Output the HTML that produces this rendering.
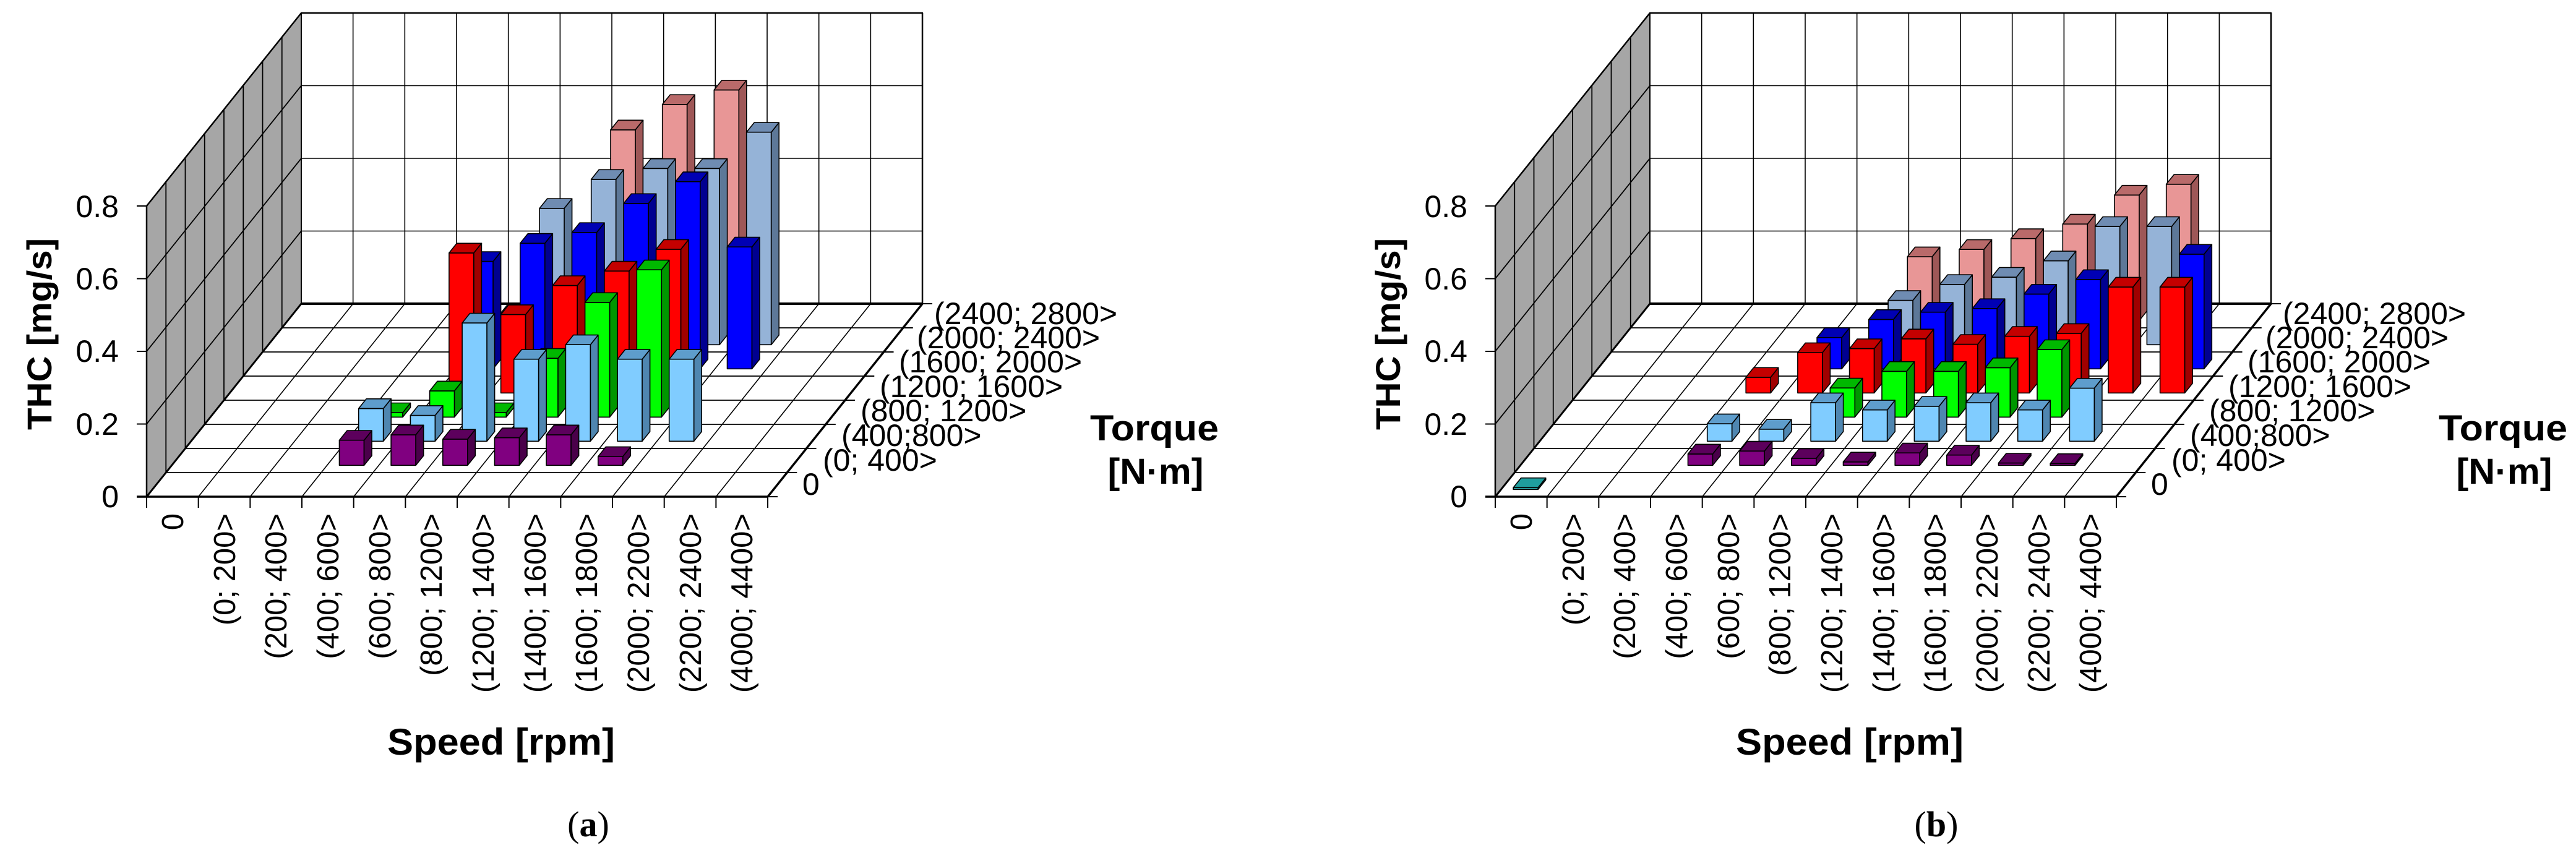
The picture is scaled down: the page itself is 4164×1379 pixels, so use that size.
<!DOCTYPE html>
<html><head><meta charset="utf-8"><style>
html,body{margin:0;padding:0;background:#fff;}
svg{display:block;}
text{font-family:"Liberation Sans",Arial,sans-serif;fill:#000;}
</style></head><body>
<svg id="s" width="4164" height="1379" viewBox="0 0 4164 1379" xmlns="http://www.w3.org/2000/svg">
<rect width="4164" height="1379" fill="#fff"/>
<g id="ga"></g>
<g id="gb"></g>
<g id="labels">
 <g id="la">
  <g font-size="50" text-anchor="end">
   <text x="192" y="820">0</text>
   <text x="192" y="703">0.2</text>
   <text x="192" y="585">0.4</text>
   <text x="192" y="468">0.6</text>
   <text x="192" y="351">0.8</text>
  </g>
  <text transform="translate(83,540) rotate(-90)" text-anchor="middle" font-size="56" font-weight="bold" textLength="310" lengthAdjust="spacingAndGlyphs">THC [mg/s]</text>
  <g font-size="49" text-anchor="end">
   <text transform="translate(279,830) rotate(-90)" dy="0.35em">0</text>
   <text transform="translate(363,830) rotate(-90)" dy="0.35em">(0; 200&gt;</text>
   <text transform="translate(446,830) rotate(-90)" dy="0.35em">(200; 400&gt;</text>
   <text transform="translate(530,830) rotate(-90)" dy="0.35em">(400; 600&gt;</text>
   <text transform="translate(614,830) rotate(-90)" dy="0.35em">(600; 800&gt;</text>
   <text transform="translate(697,830) rotate(-90)" dy="0.35em">(800; 1200&gt;</text>
   <text transform="translate(781,830) rotate(-90)" dy="0.35em">(1200; 1400&gt;</text>
   <text transform="translate(865,830) rotate(-90)" dy="0.35em">(1400; 1600&gt;</text>
   <text transform="translate(948,830) rotate(-90)" dy="0.35em">(1600; 1800&gt;</text>
   <text transform="translate(1032,830) rotate(-90)" dy="0.35em">(2000; 2200&gt;</text>
   <text transform="translate(1116,830) rotate(-90)" dy="0.35em">(2200; 2400&gt;</text>
   <text transform="translate(1199,830) rotate(-90)" dy="0.35em">(4000; 4400&gt;</text>
  </g>
  <g font-size="50">
   <text x="1297" y="800">0</text>
   <text x="1330" y="761">(0; 400&gt;</text>
   <text x="1360" y="721">(400;800&gt;</text>
   <text x="1391" y="681">(800; 1200&gt;</text>
   <text x="1422" y="642">(1200; 1600&gt;</text>
   <text x="1453" y="602">(1600; 2000&gt;</text>
   <text x="1482" y="563">(2000; 2400&gt;</text>
   <text x="1510" y="524">(2400; 2800&gt;</text>
  </g>
  <text x="1866" y="712" text-anchor="middle" font-size="58" font-weight="bold" textLength="208" lengthAdjust="spacingAndGlyphs">Torque</text>
  <text x="1868" y="782" text-anchor="middle" font-size="58" font-weight="bold" textLength="155" lengthAdjust="spacingAndGlyphs">[N·m]</text>
  <text x="810" y="1220" text-anchor="middle" font-size="60" font-weight="bold" textLength="368" lengthAdjust="spacingAndGlyphs">Speed [rpm]</text>
 </g>
 <use href="#la" transform="translate(2180,0)"/>
 <text x="951" y="1352" text-anchor="middle" font-size="58" style="font-family:'Liberation Serif',serif">(<tspan font-weight="bold">a</tspan>)</text>
 <text x="3130" y="1352" text-anchor="middle" font-size="58" style="font-family:'Liberation Serif',serif">(<tspan font-weight="bold">b</tspan>)</text>
</g>
</svg>
<script>
(function(){
var NS="http://www.w3.org/2000/svg";
var X0=237,Y0=803,CW=83.67,DX=31.25,DY=39,H=586,WH=470;
function el(g,t,a){var e=document.createElementNS(NS,t);for(var k in a)e.setAttribute(k,a[k]);g.appendChild(e);return e;}
function line(g,x1,y1,x2,y2,w){el(g,"line",{x1:x1,y1:y1,x2:x2,y2:y2,stroke:"#000","stroke-width":w||2});}
function poly(g,pts,fill){el(g,"polygon",{points:pts.map(function(p){return p[0].toFixed(1)+","+p[1].toFixed(1)}).join(" "),fill:fill,stroke:"#000","stroke-width":1.6,"stroke-linejoin":"round"});}
var COL=[["#33cccc","#1f9e9e","#178585"],["#800080","#5c005c","#4a004a"],["#80ccff","#5e9dcc","#4f86b0"],["#00ff00","#00b800","#009600"],["#ff0000","#c40000","#a00000"],["#0000ff","#0000b4","#000090"],["#95b3d7","#6f8cb2","#5d7898"],["#e89696","#b96a6a","#9e5757"]];
function chart(g,ox,data){
  var BX=X0+ox, BK=X0+ox+8*DX, BY=Y0-8*DY, FR=X0+ox+12*CW;
  poly(g,[[BX,Y0],[BK,BY],[BK,BY-WH],[BX,Y0-WH]],"#a6a6a6");
  for(var j=1;j<8;j++)line(g,BX+DX*j,Y0-DY*j,BX+DX*j,Y0-DY*j-WH,1.8);
  for(var k=1;k<4;k++)line(g,BX,Y0-k*WH/4,BK,BY-k*WH/4,1.8);
  el(g,"rect",{x:BK,y:BY-WH,width:12*CW,height:WH,fill:"#fff",stroke:"#000","stroke-width":2});
  for(var i=1;i<12;i++)line(g,BK+CW*i,BY,BK+CW*i,BY-WH,1.6);
  for(var k=1;k<4;k++)line(g,BK,BY-k*WH/4,BK+12*CW,BY-k*WH/4,1.6);
  line(g,BK,BY-WH,BK+12*CW,BY-WH,2.5);line(g,BK+12*CW,BY-WH,BK+12*CW,BY,2.5);
  poly(g,[[BX,Y0],[FR,Y0],[FR+8*DX,BY],[BK,BY]],"#fff");
  for(var j=1;j<8;j++)line(g,BX+DX*j,Y0-DY*j,FR+DX*j+14,Y0-DY*j,1.8);
  for(var i=1;i<12;i++)line(g,BX+CW*i,Y0,BK+CW*i,BY,1.6);
  line(g,BK,BY,FR+8*DX,BY,4);
  line(g,BX,Y0,BK,BY,3);line(g,FR,Y0,FR+8*DX,BY,3.5);
  line(g,BX-16,Y0,FR,Y0,3.5);
  line(g,BX,Y0,BX,Y0-WH,2.5);line(g,BX,Y0-WH,BK,BY-WH,2.5);line(g,BK,BY-WH,BK,BY,2);
  for(var k=0;k<=4;k++)line(g,BX-16,Y0-k*WH/4,BX,Y0-k*WH/4,2);
  for(var i=0;i<=12;i++)line(g,BX+CW*i,Y0,BX+CW*i,Y0+18,2);
  for(var j=0;j<=8;j++)line(g,FR+DX*j,Y0-DY*j,FR+DX*j+16,Y0-DY*j,2);
  for(var j=7;j>=0;j--){
    var r=data[j]; if(!r)continue;
    var st=r[0],vals=r[1],c=COL[j];
    for(var n=0;n<vals.length;n++){
      var v=vals[n]; if(!v)continue;
      var i=st+n, w=40, dx=12.5, dy=-15.6;
      var x0=BX+CW*(i+0.5)-22+DX*(j+0.3), yb=Y0-DY*(j+0.3);
      var h=Math.max(v*H-8,3), yt=yb-h;
      poly(g,[[x0,yb],[x0+w,yb],[x0+w,yt],[x0,yt]],c[0]);
      poly(g,[[x0+w,yb],[x0+w+dx,yb+dy],[x0+w+dx,yt+dy],[x0+w,yt]],c[2]);
      poly(g,[[x0,yt],[x0+w,yt],[x0+w+dx,yt+dy],[x0+dx,yt+dy]],c[1]);
    }
  }
}
var A={1:[3,[.083,.098,.086,.09,.098,.038]],2:[3,[.104,.085,.34,.24,.28,.24,.24]],3:[3,[.026,.086,.026,.176,.33,.42]],4:[4,[.40,.23,.31,.35,.41]],5:[4,[.31,.36,.39,.47,.53,.35]],6:[5,[.39,.47,.50,.50,.60]],7:[6,[.54,.61,.65]]};
var B={0:[0,[.016]],1:[3,[.045,.053,.033,.023,.048,.042,.02,.018]],2:[3,[.062,.047,.12,.10,.11,.12,.10,.16]],3:[5,[.094,.14,.14,.15,.20]],4:[3,[.057,.125,.136,.163,.148,.17,.178,.306,.306]],5:[4,[.10,.15,.17,.18,.22,.26,0,.33]],6:[5,[.136,.18,.20,.245,.34,.34]],7:[5,[.19,.21,.24,.28,.36,.39]]};
chart(document.getElementById("ga"),0,A);
chart(document.getElementById("gb"),2180,B);
})();
</script>
</body></html>
